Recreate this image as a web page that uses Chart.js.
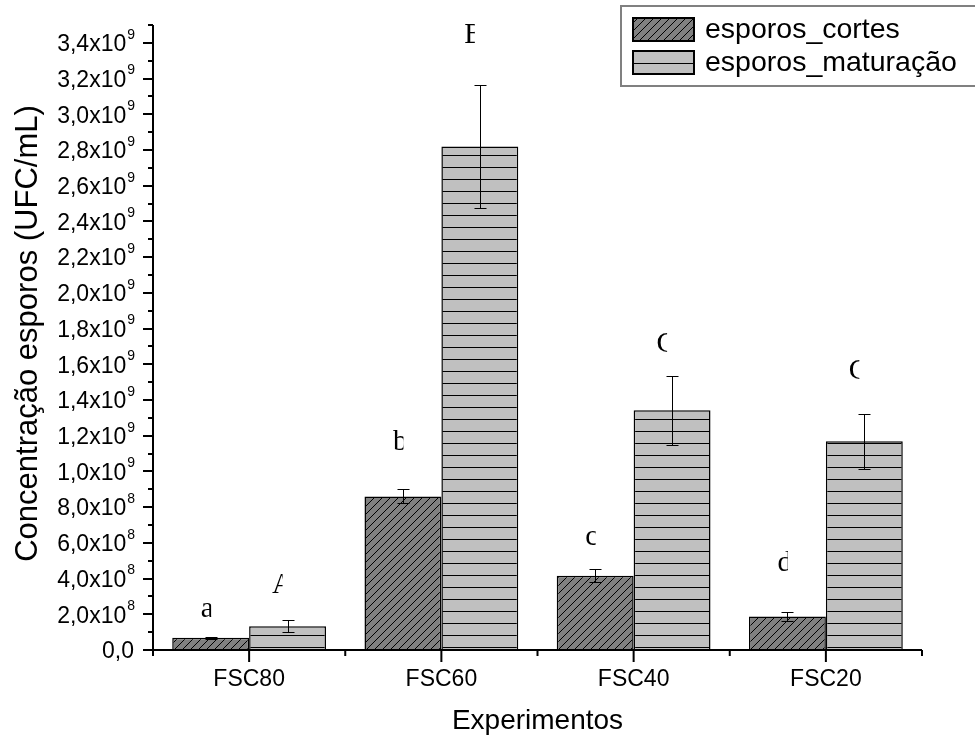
<!DOCTYPE html>
<html>
<head>
<meta charset="utf-8">
<script src="https://cdn.jsdelivr.net/npm/chart.js@4.4.1/dist/chart.umd.min.js"></script>
<style>
    body { margin: 0; background: #fff; }
    #wrap { width: 975px; height: 738px; }
</style>
</head>
<body>
<div id="wrap"><canvas id="sporeChart" width="975" height="738"></canvas></div>
<script>
// data
const categories = ['FSC80', 'FSC60', 'FSC40', 'FSC20'];
const seriesNames = ['esporos_cortes', 'esporos_maturação'];
const cortes = [0.068e9, 0.86e9, 0.416e9, 0.187e9];
const cortesErr = [0.004e9, 0.039e9, 0.035e9, 0.026e9];
const maturacao = [0.133e9, 2.82e9, 1.342e9, 1.169e9];
const maturacaoErr = [0.034e9, 0.345e9, 0.193e9, 0.155e9];

// significance letters and the value level of their baseline
const cortesLetters = ['a', 'b', 'c', 'd'];
const maturacaoLetters = ['A', 'B', 'C', 'C'];
const cortesLetterY = [0.185e9, 1.12e9, 0.59e9, 0.44e9];
const maturacaoLetterY = [0.318e9, 3.40e9, 1.67e9, 1.52e9];

const yTicks = [0, 0.2e9, 0.4e9, 0.6e9, 0.8e9, 1.0e9, 1.2e9, 1.4e9, 1.6e9, 1.8e9,
    2.0e9, 2.2e9, 2.4e9, 2.6e9, 2.8e9, 3.0e9, 3.2e9, 3.4e9];
const yTickLabels = ['0,0', '2,0x10^8', '4,0x10^8', '6,0x10^8', '8,0x10^8', '1,0x10^9',
    '1,2x10^9', '1,4x10^9', '1,6x10^9', '1,8x10^9', '2,0x10^9', '2,2x10^9', '2,4x10^9',
    '2,6x10^9', '2,8x10^9', '3,0x10^9', '3,2x10^9', '3,4x10^9'];
const yMinorTicks = [0.1e9, 0.3e9, 0.5e9, 0.7e9, 0.9e9, 1.1e9, 1.3e9, 1.5e9, 1.7e9, 1.9e9,
    2.1e9, 2.3e9, 2.5e9, 2.7e9, 2.9e9, 3.1e9, 3.3e9, 3.5e9];

const SANS = '"Liberation Sans", Arial, sans-serif';
const SERIF = '"Liberation Serif", "Times New Roman", serif';

var canvas = document.getElementById('sporeChart');
var ctx = canvas.getContext('2d');

function hatchPattern() {
    const c = document.createElement('canvas');
    c.width = 8; c.height = 8;
    const g = c.getContext('2d');
    g.fillStyle = '#808080';
    g.fillRect(0, 0, 8, 8);
    g.strokeStyle = '#000';
    g.lineWidth = 1;
    g.beginPath();
    g.moveTo(-4, 4); g.lineTo(4, -4);
    g.moveTo(0, 8); g.lineTo(8, 0);
    g.moveTo(4, 12); g.lineTo(12, 4);
    g.stroke();
    return ctx.createPattern(c, 'repeat');
}

function stripePattern() {
    const c = document.createElement('canvas');
    c.width = 4; c.height = 12;
    const g = c.getContext('2d');
    g.fillStyle = '#c0c0c0';
    g.fillRect(0, 0, 4, 12);
    g.fillStyle = '#000';
    g.fillRect(0, 11, 4, 1);
    return ctx.createPattern(c, 'repeat');
}

const hatch = hatchPattern();
const stripes = stripePattern();

// axes, ticks and titles
const axisPlugin = {
    id: 'axisPlugin',
    afterDraw(chart) {
        const c = chart.ctx;
        const a = chart.chartArea;
        const xs = chart.scales.x;
        const ys = chart.scales.y;
        c.save();
        c.strokeStyle = '#000';
        c.fillStyle = '#000';
        c.lineWidth = 2;
        c.beginPath();
        c.moveTo(a.left, a.top);
        c.lineTo(a.left, a.bottom + 1);
        c.moveTo(a.left - 1, a.bottom);
        c.lineTo(a.right, a.bottom);
        c.stroke();

        c.beginPath();
        yTicks.forEach(v => {
            const y = Math.round(ys.getPixelForValue(v));
            c.moveTo(a.left - 10, y); c.lineTo(a.left, y);
        });
        yMinorTicks.forEach(v => {
            const y = Math.round(ys.getPixelForValue(v));
            c.moveTo(a.left - 5, y); c.lineTo(a.left, y);
        });
        const step = (a.right - a.left) / categories.length;
        categories.forEach((cat, i) => {
            const x = xs.getPixelForValue(i);
            c.moveTo(x, a.bottom); c.lineTo(x, a.bottom + 12);
        });
        for (let i = 0; i <= categories.length; i++) {
            const x = a.left + i * step;
            c.moveTo(x, a.bottom); c.lineTo(x, a.bottom + 6);
        }
        c.stroke();

        // y tick labels with superscript exponent
        c.textBaseline = 'middle';
        yTicks.forEach((v, i) => {
            const y = ys.getPixelForValue(v) + 2;
            const parts = yTickLabels[i].split('^');
            const right = a.left - 19;
            if (parts.length === 1) {
                c.font = '23px ' + SANS;
                c.textAlign = 'right';
                c.fillText(parts[0], right, y);
                return;
            }
            c.font = '14px ' + SANS;
            const supW = c.measureText(parts[1]).width;
            c.textAlign = 'left';
            c.fillText(parts[1], right - supW + 1, y - 10);
            c.font = '23px ' + SANS;
            c.textAlign = 'right';
            c.fillText(parts[0], right - supW, y);
        });

        // category labels
        c.font = '23px ' + SANS;
        c.textAlign = 'center';
        categories.forEach((cat, i) => {
            c.fillText(cat, xs.getPixelForValue(i), a.bottom + 30);
        });

        c.font = '28px ' + SANS;
        c.fillText('Experimentos', (a.left + a.right) / 2, a.bottom + 71);

        c.save();
        c.translate(28, (a.top + a.bottom) / 2 - 4);
        c.rotate(-Math.PI / 2);
        c.font = '31px ' + SANS;
        c.fillText('Concentração esporos (UFC/mL)', 0, 0);
        c.restore();
        c.restore();
    }
};

const errorBarPlugin = {
    id: 'errorBars',
    afterDatasetsDraw(chart) {
        const c = chart.ctx;
        const ys = chart.scales.y;
        const errs = [cortesErr, maturacaoErr];
        c.save();
        c.strokeStyle = '#000';
        c.lineWidth = 1;
        chart.data.datasets.forEach((ds, di) => {
            chart.getDatasetMeta(di).data.forEach((bar, i) => {
                const v = ds.data[i];
                const e = errs[di][i];
                const x = Math.round(bar.x) + 0.5;
                const yt = Math.round(ys.getPixelForValue(v + e)) + 0.5;
                const yb = Math.round(ys.getPixelForValue(v - e)) + 0.5;
                c.beginPath();
                c.moveTo(x, yt); c.lineTo(x, yb);
                c.moveTo(x - 6, yt); c.lineTo(x + 6, yt);
                c.moveTo(x - 6, yb); c.lineTo(x + 6, yb);
                c.stroke();
            });
        });

        // letters, clipped to a narrow box as in the figure
        const letters = [cortesLetters, maturacaoLetters];
        const levels = [cortesLetterY, maturacaoLetterY];
        const shift = [-10, -15.5];
        c.fillStyle = '#000';
        c.font = '29px ' + SERIF;
        c.textAlign = 'left';
        c.textBaseline = 'alphabetic';
        chart.data.datasets.forEach((ds, di) => {
            chart.getDatasetMeta(di).data.forEach((bar, i) => {
                const x = bar.x + shift[di];
                const y = ys.getPixelForValue(levels[di][i]);
                c.save();
                c.beginPath();
                c.rect(x, y - 30, 10.5, 40);
                c.clip();
                c.fillText(letters[di][i], x, y);
                c.restore();
            });
        });
        c.restore();
    }
};

const legendPlugin = {
    id: 'boxLegend',
    afterDraw(chart) {
        const c = chart.ctx;
        c.save();
        c.strokeStyle = '#808080';
        c.lineWidth = 2;
        c.strokeRect(621, 6, 400, 80);

        c.fillStyle = hatch;
        c.fillRect(633, 18, 61, 23);
        c.fillStyle = '#c0c0c0';
        c.fillRect(633, 51, 61, 23);
        c.strokeStyle = '#000';
        c.lineWidth = 1;
        c.beginPath();
        c.moveTo(633, 63.5); c.lineTo(694, 63.5);
        c.stroke();
        c.lineWidth = 2;
        c.strokeRect(633, 18, 61, 23);
        c.strokeRect(633, 51, 61, 23);

        c.fillStyle = '#000';
        c.font = '28.5px ' + SANS;
        c.textAlign = 'left';
        c.textBaseline = 'middle';
        c.fillText(seriesNames[0], 705, 30);
        c.fillText(seriesNames[1], 705, 63);
        c.restore();
    }
};

var sporeChart = new Chart(ctx, {
    type: 'bar',
    data: {
        labels: categories,
        datasets: [{
            label: seriesNames[0],
            data: cortes,
            backgroundColor: hatch,
            borderColor: '#000',
            borderWidth: 1.5,
            categoryPercentage: 0.8,
            barPercentage: 1.0
        }, {
            label: seriesNames[1],
            data: maturacao,
            backgroundColor: stripes,
            borderColor: '#000',
            borderWidth: 1.5,
            categoryPercentage: 0.8,
            barPercentage: 1.0
        }]
    },
    options: {
        responsive: false,
        animation: false,
        layout: { padding: { left: 153, right: 53, top: 25, bottom: 88 } },
        plugins: {
            legend: { display: false },
            tooltip: { enabled: false }
        },
        scales: {
            x: { display: false },
            y: { display: false, min: 0, max: 3.5e9 }
        }
    },
    plugins: [axisPlugin, errorBarPlugin, legendPlugin]
});
</script>
</body>
</html>
